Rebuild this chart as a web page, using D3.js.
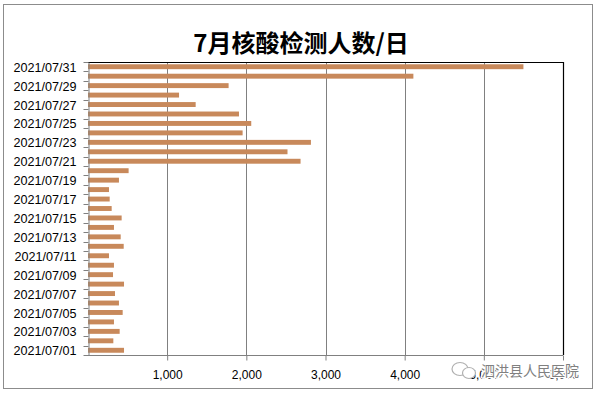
<!DOCTYPE html>
<html lang="zh">
<head>
<meta charset="UTF-8">
<title>7月核酸检测人数/日</title>
<script src="https://cdn.jsdelivr.net/npm/d3@7/dist/d3.min.js"></script>
<style>
  body { margin: 0; background: #fff; }
  .tick text { font-family: "Liberation Sans", Arial, sans-serif; font-size: 12px; fill: #000; }
  .yax .tick text { font-size: 12.6px; }
</style>
</head>
<body>
<div id="chart"></div>
<script>
// dates, bottom (07/01) to top (07/31)
var dates = [];
for (var d = 1; d <= 31; d++) dates.push("2021/07/" + (d < 10 ? "0" + d : d));
var counts = [455, 320, 400, 328, 438, 391, 341, 455, 316, 328,
              265, 451, 413, 328, 425, 299, 274, 265, 391, 513,
              2685, 2520, 2816, 1953, 2062, 1907, 1360, 1150, 1776, 4110, 5500];
var xTicks = [1000, 2000, 3000, 4000, 5000, 6000];

var W = 597, H = 395;
var pLeft = 88, pRight = 563, pTop = 62, pBottom = 355;

var svg = d3.select("#chart").append("svg").attr("width", W).attr("height", H);

// outer frame
svg.append("rect").attr("x", 3.5).attr("y", 4.5).attr("width", 589).attr("height", 384)
  .attr("fill", "#fff").attr("stroke", "#8c8c8c").attr("stroke-width", 1);

svg.append("text").attr("x", 301).attr("y", 52).attr("text-anchor", "middle")
  .style("font-family", "'Noto Sans CJK SC', sans-serif").style("font-weight", "bold")
  .style("font-size", "24px").text("7月核酸检测人数/日");

var x = d3.scaleLinear().domain([0, 6000]).range([pLeft, pRight]);
var y = d3.scaleBand().domain(dates.slice().reverse()).range([pTop, pBottom]).paddingInner(0.48).paddingOuter(0.24);

// gridlines
svg.append("g").selectAll("line").data(xTicks).enter().append("line")
  .attr("x1", function (v) { return Math.round(x(v)) + 0.5; })
  .attr("x2", function (v) { return Math.round(x(v)) + 0.5; })
  .attr("y1", pTop).attr("y2", pBottom)
  .attr("stroke", "#808080").attr("stroke-width", 1);

// bars
svg.append("g").selectAll("rect").data(dates).enter().append("rect")
  .attr("x", pLeft)
  .attr("y", function (d) { return y(d); })
  .attr("width", function (d, i) { return x(counts[i]) - pLeft; })
  .attr("height", y.bandwidth())
  .attr("fill", "#c8895b");

// plot border (top / right black)
svg.append("path").attr("d", "M" + pLeft + "," + (pTop + 0.5) + "H" + (pRight + 0.5) + "V" + pBottom)
  .attr("fill", "none").attr("stroke", "#000").attr("stroke-width", 1.2);

// x axis
var xAxis = d3.axisBottom(x).tickValues(xTicks).tickFormat(d3.format(",")).tickSize(5).tickPadding(10);
var gx = svg.append("g").attr("transform", "translate(0," + (pBottom + 0.5) + ")").call(xAxis);
gx.select(".domain").attr("stroke", "#808080").attr("d", "M" + pLeft + ",0H" + pRight);
gx.selectAll(".tick line").attr("stroke", "#808080");

// y axis: labels on odd days, ticks on band edges
var yLab = d3.scaleBand().domain(dates.slice().reverse()).range([pTop, pBottom]);
var gy = svg.append("g").attr("class", "yax").attr("transform", "translate(" + (pLeft + 0.5) + ",0)")
  .call(d3.axisLeft(yLab).tickSize(0).tickPadding(12)
    .tickFormat(function (d, i) { return (i % 2 === 0) ? d : ""; }));
gy.select(".domain").attr("stroke", "#808080");
gy.selectAll(".tick text").attr("dy", "0.4em");
gy.append("g").selectAll("line").data(d3.range(dates.length + 1)).enter().append("line")
  .attr("x1", -5).attr("x2", 0)
  .attr("y1", function (i) { return Math.round(pTop + i * yLab.step()) + 0.5; })
  .attr("y2", function (i) { return Math.round(pTop + i * yLab.step()) + 0.5; })
  .attr("stroke", "#808080");

// watermark
var wm = svg.append("g").attr("transform", "translate(452,376)");
wm.append("ellipse").attr("cx", 8).attr("cy", -7).attr("rx", 8).attr("ry", 6.5)
  .attr("fill", "#fff").attr("stroke", "#b0b0b0").attr("stroke-width", 1.2);
wm.append("ellipse").attr("cx", 17).attr("cy", -3).attr("rx", 6.5).attr("ry", 5.5)
  .attr("fill", "#fff").attr("stroke", "#b0b0b0").attr("stroke-width", 1.2);
wm.append("text").attr("x", 29).attr("y", 0)
  .style("font-family", "'Noto Sans CJK SC', sans-serif").style("font-size", "14px")
  .attr("fill", "#808080").attr("stroke", "#fff").attr("stroke-width", 2.5).attr("paint-order", "stroke")
  .text("泗洪县人民医院");
</script>
</body>
</html>
